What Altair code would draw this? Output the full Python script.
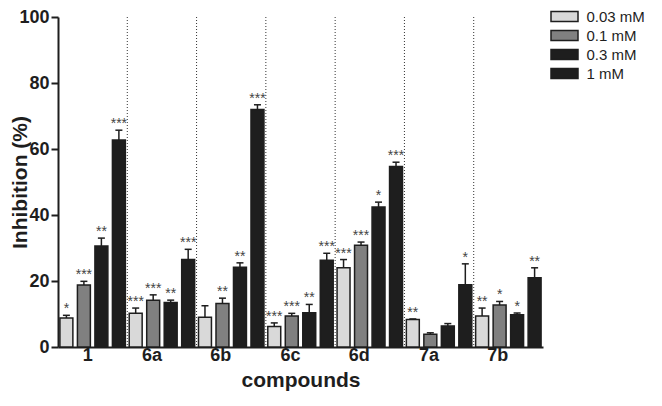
import altair as alt
import pandas as pd

compounds = ["1", "6a", "6b", "6c", "6d", "7a", "7b"]
concentrations = ["0.03 mM", "0.1 mM", "0.3 mM", "1 mM"]
colors = ["#d9d9d9", "#808080", "#1e1e1e", "#1e1e1e"]

mean_003 = [8.8, 10.2, 9.0, 6.2, 24.0, 8.3, 9.4]
mean_01 = [18.8, 14.2, 13.2, 9.4, 30.8, 3.9, 12.7]
mean_03 = [30.6, 13.5, 24.2, 10.4, 42.4, 6.4, 9.8]
mean_1 = [62.7, 26.5, 72.0, 26.3, 54.7, 18.9, 21.0]

err_003 = [0.8, 1.6, 3.5, 1.1, 2.5, 0.2, 2.4]
err_01 = [1.1, 1.6, 1.6, 0.8, 1.0, 0.4, 1.1]
err_03 = [2.4, 0.7, 1.3, 2.5, 1.5, 0.7, 0.5]
err_1 = [3.0, 3.1, 1.4, 2.1, 1.3, 6.3, 3.0]

stars_003 = ["*", "***", "", "***", "***", "**", "**"]
stars_01 = ["***", "***", "**", "***", "***", "", "*"]
stars_03 = ["**", "**", "**", "**", "*", "", "*"]
stars_1 = ["***", "***", "***", "***", "***", "*", "**"]

rows = []
for conc, means, errs, stars in zip(
    concentrations,
    [mean_003, mean_01, mean_03, mean_1],
    [err_003, err_01, err_03, err_1],
    [stars_003, stars_01, stars_03, stars_1],
):
    for c, m, e, s in zip(compounds, means, errs, stars):
        rows.append(dict(compound=c, conc=conc, mean=m, top=m + e, star=s))
df = pd.DataFrame(rows)
div_df = pd.DataFrame({"compound": compounds[:-1]})

W, H = 485, 330
FONT = "Liberation Sans"
INK = "#1e1e1e"

xscale = alt.Scale(domain=compounds, paddingInner=0, paddingOuter=0)
xoff = alt.XOffset(
    "conc:N",
    sort=concentrations,
    scale=alt.Scale(domain=concentrations, paddingInner=0.26, paddingOuter=0.11),
)
yscale = alt.Scale(domain=[0, 100])

x_axis = alt.Axis(
    title="compounds", labelAngle=0, tickSize=0, labelPadding=8,
    domainWidth=2, domainColor=INK, labelFont=FONT, labelFontSize=18,
    labelFontWeight="bold", labelColor=INK, titleFont=FONT, titleFontSize=21,
    titleFontWeight="bold", titleColor=INK, titlePadding=5,
)
y_axis = alt.Axis(
    title="Inhibition (%)", values=[0, 20, 40, 60, 80, 100], tickSize=7,
    tickWidth=2, tickColor=INK, domainWidth=2, domainColor=INK, grid=False,
    labelFont=FONT, labelFontSize=18, labelFontWeight="bold", labelColor=INK,
    labelPadding=2, titleFont=FONT, titleFontSize=21, titleFontWeight="bold",
    titleColor=INK, titleX=-38, titleBaseline="middle",
)

base = alt.Chart(df)

bars = base.mark_bar(stroke=INK, strokeWidth=1.5).encode(
    x=alt.X("compound:N", sort=compounds, scale=xscale, axis=x_axis),
    xOffset=xoff,
    y=alt.Y("mean:Q", scale=yscale, axis=y_axis),
    fill=alt.Fill(
        "conc:N",
        sort=concentrations,
        scale=alt.Scale(domain=concentrations, range=colors),
        legend=alt.Legend(
            title=None, orient="none", legendX=499, legendY=-8,
            symbolType="M-2.7,-1L2.7,-1L2.7,1L-2.7,1Z", symbolSize=100,
            symbolStrokeColor=INK, symbolStrokeWidth=1.5, symbolOpacity=1,
            labelFont=FONT, labelFontSize=15, labelColor=INK,
            labelOffset=14.5, rowPadding=2, padding=0,
        ),
    ),
)

err_line = base.mark_rule(color=INK, strokeWidth=1.5).encode(
    x=alt.X("compound:N", sort=compounds, scale=xscale),
    xOffset=xoff,
    y=alt.Y("mean:Q", scale=yscale),
    y2="top:Q",
)

err_cap = base.mark_tick(color=INK, thickness=1.5, size=7, opacity=1).encode(
    x=alt.X("compound:N", sort=compounds, scale=xscale),
    xOffset=xoff,
    y=alt.Y("top:Q", scale=yscale),
)

labels = base.mark_text(
    font=FONT, fontSize=14, color="#444", baseline="alphabetic", dy=-2
).encode(
    x=alt.X("compound:N", sort=compounds, scale=xscale),
    xOffset=xoff,
    y=alt.Y("top:Q", scale=yscale),
    text="star:N",
)

dividers = alt.Chart(div_df).mark_rule(
    color="#333", strokeWidth=1, strokeDash=[1, 2]
).encode(
    x=alt.X("compound:N", sort=compounds, scale=xscale, bandPosition=1),
    y=alt.value(0),
    y2=alt.value(H),
)

chart = (
    alt.layer(dividers, bars, err_line, err_cap, labels)
    .properties(
        width=W, height=H,
        padding={"left": 50, "top": 9, "right": 111, "bottom": 51},
        autosize=alt.AutoSizeParams(type="none"),
    )
    .configure_view(stroke=None)
)

chart.save("out.html", embed_options={"renderer": "svg", "actions": False})
